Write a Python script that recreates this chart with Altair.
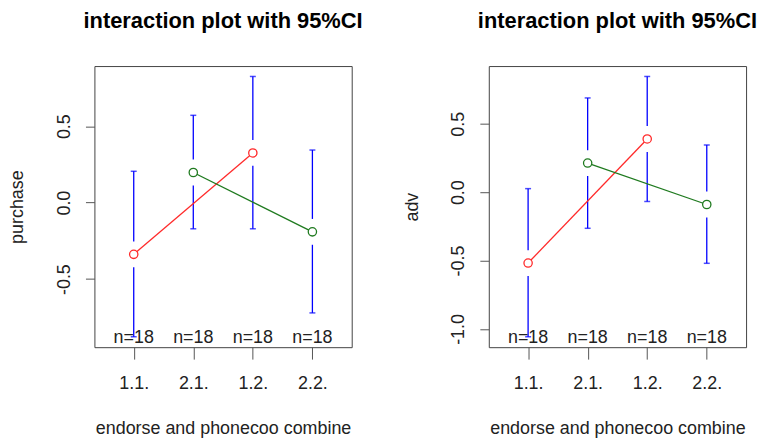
import altair as alt
import pandas as pd

categories = ["1.1.", "2.1.", "1.2.", "2.2."]
groups = ["1", "2", "1", "2"]
n_labels = ["n=18", "n=18", "n=18", "n=18"]

purchase_mean = [-0.338, 0.197, 0.325, -0.191]
purchase_lower = [-0.877, -0.171, -0.171, -0.721]
purchase_upper = [0.205, 0.571, 0.825, 0.344]

adv_mean = [-0.518, 0.213, 0.389, -0.090]
adv_lower = [-1.057, -0.264, -0.068, -0.520]
adv_upper = [0.026, 0.689, 0.846, 0.345]

title_text = "interaction plot with 95%CI"
x_title = "endorse and phonecoo combine"
tick_candidates = [-1.0, -0.5, 0.0, 0.5, 1.0]

FONT = "Liberation Sans"
W, H = 259, 283
BLUE = "#0000ff"
RED = "#ff2a2a"
GREEN = "#1f7a1f"
GAP = 13


def panel(mean, lower, upper, ytitle):
    lo, hi = min(lower), max(upper)
    pad = 0.04 * (hi - lo)
    dlo, dhi = lo - pad, hi + pad
    ticks = [v for v in tick_candidates if dlo <= v <= dhi]
    df = pd.DataFrame({
        "cat": categories, "grp": groups, "nlab": n_labels,
        "mean": mean, "lower": lower, "upper": upper,
    })
    base = alt.Chart(df)
    x = alt.X("cat:N", sort=categories,
              scale=alt.Scale(type="point", padding=0.66),
              axis=alt.Axis(title=x_title, titleFont=FONT, titleFontSize=18,
                            titleFontWeight="normal", titleColor="#222",
                            titleY=87, titleBaseline="alphabetic",
                            labelFont=FONT, labelFontSize=18, labelColor="#222",
                            labelAngle=0, labelBaseline="alphabetic",
                            labelPadding=30, tickSize=12, tickColor="#555",
                            domain=False, grid=False))
    yscale = alt.Scale(domain=[dlo, dhi], nice=False, zero=False)
    yaxis = alt.Axis(title=ytitle, values=ticks, titleFont=FONT, titleFontSize=18,
                     titleFontWeight="normal", titleColor="#222", titleAngle=270,
                     titleX=-72, titleY=H / 2, titleBaseline="alphabetic",
                     titleAlign="center",
                     labelFont=FONT, labelFontSize=18, labelColor="#222",
                     labelAngle=270, labelAlign="center", labelBaseline="alphabetic",
                     labelPadding=16, labelOverlap=False,
                     labelExpr="replace(format(datum.value, '.1f'), '\u2212', '-')",
                     tickSize=9, tickColor="#555", domain=False, grid=False)
    y = alt.Y("mean:Q", scale=yscale, axis=yaxis)
    color = alt.Color("grp:N", scale=alt.Scale(domain=["1", "2"], range=[RED, GREEN]),
                      legend=None)

    bar_low = base.mark_rule(color=BLUE, strokeWidth=1.3, y2Offset=GAP).encode(
        x=x, y=alt.Y("lower:Q", scale=yscale, axis=yaxis), y2="mean:Q")
    bar_up = base.mark_rule(color=BLUE, strokeWidth=1.3, y2Offset=-GAP).encode(
        x=x, y=alt.Y("upper:Q", scale=yscale, axis=yaxis), y2="mean:Q")
    cap_low = base.mark_tick(color=BLUE, orient="horizontal", size=6, thickness=1.5).encode(
        x=x, y=alt.Y("lower:Q", scale=yscale, axis=yaxis))
    cap_up = base.mark_tick(color=BLUE, orient="horizontal", size=6, thickness=1.5).encode(
        x=x, y=alt.Y("upper:Q", scale=yscale, axis=yaxis))
    lines = base.mark_line(strokeWidth=1.3).encode(x=x, y=y, color=color, detail="grp:N")
    points = base.mark_point(shape="circle", size=70, strokeWidth=1.3, filled=False,
                             fill="white", fillOpacity=1, opacity=1).encode(
        x=x, y=y, color=color)
    nlab = base.mark_text(font=FONT, fontSize=18, baseline="alphabetic", dy=-4,
                          color="#222").encode(x=x, y=alt.datum(dlo), text="nlab:N")

    return alt.layer(bar_low, bar_up, cap_low, cap_up, lines, points, nlab).properties(
        width=W, height=H,
        title=alt.TitleParams(title_text, font=FONT, fontSize=22, fontWeight="bold",
                              anchor="middle", frame="group", offset=16,
                              baseline="alphabetic", color="black"))


left = panel(purchase_mean, purchase_lower, purchase_upper, "purchase")
right = panel(adv_mean, adv_lower, adv_upper, "adv")

chart = alt.hconcat(left, right, spacing=138, bounds="flush").properties(
    padding={"left": 0, "top": 0, "right": 0, "bottom": 0}
).configure_view(stroke="#444", strokeWidth=1)

chart.save("out.html", embed_options={"renderer": "svg", "actions": False})
